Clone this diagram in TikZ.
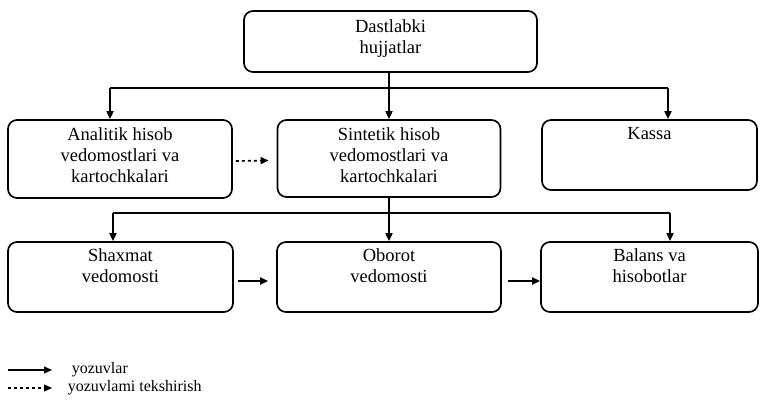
\documentclass[tikz,border=0pt]{standalone}
\usepackage{fontspec}
\setmainfont{Liberation Serif}
\usetikzlibrary{arrows.meta,positioning}

\begin{document}
\begin{tikzpicture}[x=1pt,y=-1pt,line width=1.7pt,
   every node/.style={font=\fontsize{18.5}{21}\selectfont},
   bx/.style={draw,rounded corners=9pt,inner sep=0pt},
   lb/.style={anchor=north,align=center,inner sep=0pt},
   lg/.style={inner sep=0pt,font=\fontsize{16}{18}\selectfont},
   ar/.style={-{Triangle[length=8pt,width=7pt]}}]
  \useasboundingbox (0,0) rectangle (761,401);
  \node[bx,minimum width=293pt,minimum height=61pt,
        label={[lb,yshift=-8.5pt]north:Dastlabki\\hujjatlar}] (dast) at (390.5,41.5) {};
  \node[bx,minimum width=224pt,minimum height=78pt,
        label={[lb,yshift=-8pt]north:Analitik hisob\\vedomostlari va\\kartochkalari}] (ana) at (120,159) {};
  \node[bx,minimum width=223pt,minimum height=77pt,
        label={[lb,yshift=-8pt]north:Sintetik hisob\\vedomostlari va\\kartochkalari}] (sin) at (389,158.5) {};
  \node[bx,minimum width=215pt,minimum height=70pt,
        label={[lb,yshift=-7pt]north:Kassa}] (kas) at (649.5,155) {};
  \node[bx,minimum width=225pt,minimum height=70pt,
        label={[lb,yshift=-7pt]north:Shaxmat\\vedomosti}] (sha) at (120.5,277) {};
  \node[bx,minimum width=224pt,minimum height=70pt,
        label={[lb,yshift=-7pt]north:Oborot\\vedomosti}] (obo) at (389,277) {};
  \node[bx,minimum width=217pt,minimum height=70pt,
        label={[lb,yshift=-7pt]north:Balans va\\hisobotlar}] (bal) at (649.5,277) {};
  % razvodka sverhu
  \coordinate (hl) at (110,88);
  \coordinate (hr) at (668,88);
  \draw (hl) -- (hr);
  \draw[ar] (sin.north |- dast.south) -- (sin.north);
  \draw[ar] (hl) -- (hl |- ana.north);
  \draw[ar] (hr) -- (hr |- kas.north);
  \draw[ar,dashed] ([xshift=3pt,yshift=-2pt]ana.east) -- ([xshift=-8pt,yshift=-2pt]sin.west);
  % razvodka snizu
  \coordinate (bl) at (113,213);
  \coordinate (br) at (670,213);
  \draw (bl) -- (br);
  \draw[ar] (sin.south) -- (obo.north);
  \draw[ar] (bl) -- (bl |- sha.north);
  \draw[ar] (br) -- (br |- bal.north);
  \draw[ar] ([xshift=4pt,yshift=-4pt]sha.east) -- ([xshift=-8pt,yshift=-4pt]obo.west);
  \draw[ar] ([xshift=6pt,yshift=-4pt]obo.east) -- ([yshift=-4pt]bal.west);
  % legenda
  \coordinate (l1a) at (8,370);
  \coordinate (l1b) at (52,370);
  \coordinate (l2a) at (8,388);
  \coordinate (l2b) at (52,388);
  \draw[ar,line width=1.2pt] (l1a) -- (l1b);
  \draw[ar,dashed,line width=1.2pt] (l2a) -- (l2b);
  \node[lg,right=19pt of l1b] (lg1) {yozuvlar};
  \node[lg,right=15pt of l2b] (lg2) {yozuvlami tekshirish};
\end{tikzpicture}
\end{document}
